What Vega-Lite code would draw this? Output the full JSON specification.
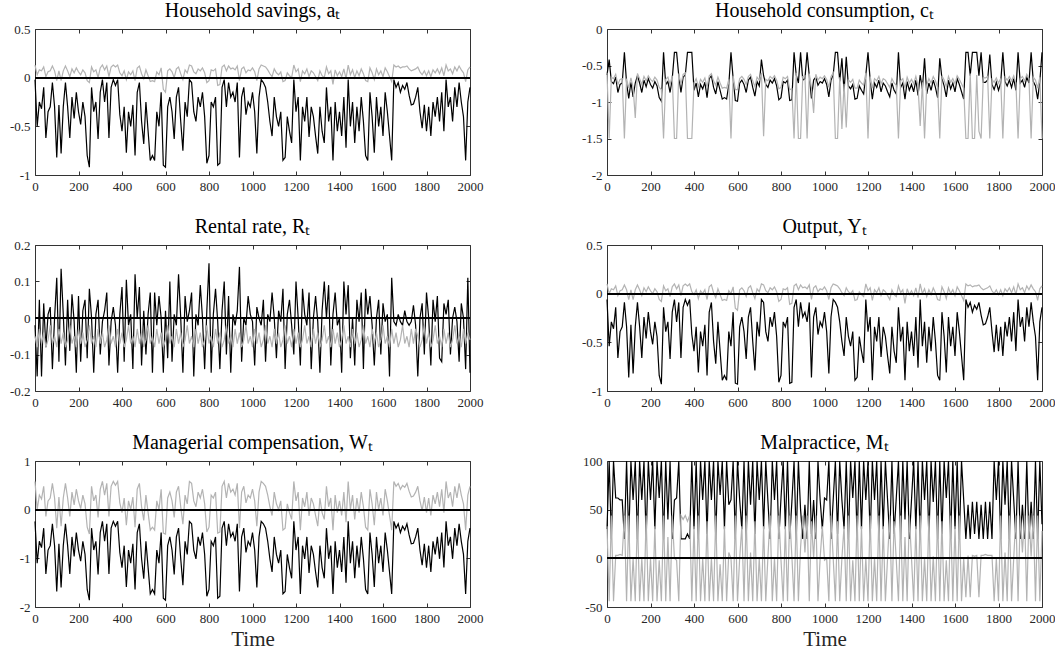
{
"$schema":"https://vega.github.io/schema/vega-lite/v6.json",
"padding":{"left":9,"top":1,"right":0,"bottom":0},
"config":{"view":{"stroke":null},"font":"Liberation Serif",
"axis":{"grid":false,"domainColor":"#333333","tickColor":"#333333","labelColor":"#262626","labelFont":"Liberation Serif","labelFontSize":13,"tickSize":-4,"labelPadding":9,"domainWidth":1,"tickWidth":1,"titleFont":"Liberation Serif","titleFontSize":21,"titleFontWeight":"normal","titleColor":"#262626","titlePadding":3,"labelFlush":false},
"title":{"font":"Liberation Serif","fontSize":20,"fontWeight":"normal","color":"#000000","offset":2,"frame":"group"},
"line":{"strokeWidth":1.2}},
"data":{"values":[
{"t":0,"a":-0.02,"ag":0.13,"c":-0.63,"cg":-0.6,"r":-0.02,"rg":-0.05,"y":-0.06,"yg":0.1,"w":-0.24,"wg":0.58,"m":30,"mg":33},
{"t":10,"a":-0.5,"ag":0.03,"c":-0.42,"cg":-1.5,"r":-0.16,"rg":-0.08,"y":-0.54,"yg":0,"w":-1.1,"wg":0,"m":100,"mg":-44},
{"t":20,"a":-0.25,"ag":0.08,"c":-0.72,"cg":-0.66,"r":0.05,"rg":-0.03,"y":-0.29,"yg":0.05,"w":-0.65,"wg":0.3,"m":20,"mg":44},
{"t":30,"a":-0.32,"ag":0.07,"c":-0.75,"cg":-0.68,"r":-0.16,"rg":-0.07,"y":-0.36,"yg":0.04,"w":-0.78,"wg":0.22,"m":100,"mg":-44},
{"t":40,"a":-0.1,"ag":0.11,"c":-0.66,"cg":-0.62,"r":0.04,"rg":-0.04,"y":-0.14,"yg":0.08,"w":-0.38,"wg":0.48,"m":62,"mg":3},
{"t":50,"a":-0.62,"ag":0.01,"c":-0.87,"cg":-0.76,"r":-0.08,"rg":-0.08,"y":-0.66,"yg":-0.02,"w":-1.32,"wg":-0.14,"m":62,"mg":3},
{"t":60,"a":-0.35,"ag":0.06,"c":-0.76,"cg":-0.69,"r":0.01,"rg":-0.06,"y":-0.39,"yg":0.03,"w":-0.83,"wg":0.18,"m":60,"mg":4},
{"t":70,"a":-0.3,"ag":0.07,"c":-0.74,"cg":-0.68,"r":0.03,"rg":-0.02,"y":-0.34,"yg":0.04,"w":-0.74,"wg":0.24,"m":60,"mg":3},
{"t":80,"a":-0.05,"ag":0.12,"c":-0.32,"cg":-1.5,"r":-0.14,"rg":-0.07,"y":-0.09,"yg":0.09,"w":-0.29,"wg":0.54,"m":20,"mg":44},
{"t":90,"a":-0.3,"ag":0.07,"c":-0.74,"cg":-0.68,"r":0,"rg":-0.05,"y":-0.34,"yg":0.04,"w":-0.74,"wg":0.24,"m":100,"mg":-44},
{"t":100,"a":-0.82,"ag":-0.03,"c":-0.95,"cg":-0.81,"r":0.11,"rg":-0.08,"y":-0.86,"yg":-0.06,"w":-1.68,"wg":-0.38,"m":20,"mg":44},
{"t":110,"a":-0.28,"ag":0.07,"c":-0.73,"cg":-0.67,"r":-0.12,"rg":-0.03,"y":-0.32,"yg":0.04,"w":-0.7,"wg":0.26,"m":100,"mg":-44},
{"t":120,"a":-0.78,"ag":-0.03,"c":-0.93,"cg":-0.8,"r":0.135,"rg":-0.07,"y":-0.82,"yg":-0.06,"w":-1.6,"wg":-0.34,"m":60,"mg":0},
{"t":130,"a":-0.3,"ag":0.07,"c":-0.74,"cg":-1.22,"r":0.01,"rg":-0.04,"y":-0.34,"yg":0.04,"w":-0.74,"wg":0.24,"m":100,"mg":-44},
{"t":140,"a":-0.05,"ag":0.12,"c":-0.64,"cg":-0.61,"r":-0.13,"rg":-0.08,"y":-0.09,"yg":0.09,"w":-0.29,"wg":0.54,"m":20,"mg":44},
{"t":150,"a":-0.3,"ag":0.07,"c":-0.74,"cg":-0.68,"r":0.05,"rg":-0.06,"y":-0.34,"yg":0.04,"w":-0.74,"wg":0.24,"m":100,"mg":-44},
{"t":160,"a":-0.62,"ag":0.01,"c":-0.87,"cg":-0.76,"r":-0.09,"rg":-0.02,"y":-0.66,"yg":-0.02,"w":-1.32,"wg":-0.14,"m":60,"mg":0},
{"t":170,"a":-0.2,"ag":0.09,"c":-0.7,"cg":-0.65,"r":0.065,"rg":-0.07,"y":-0.24,"yg":0.06,"w":-0.56,"wg":0.36,"m":100,"mg":-44},
{"t":180,"a":-0.42,"ag":0.05,"c":-0.79,"cg":-0.71,"r":-0.01,"rg":-0.05,"y":-0.46,"yg":0.02,"w":-0.96,"wg":0.1,"m":20,"mg":44},
{"t":190,"a":-0.15,"ag":0.1,"c":-0.68,"cg":-0.64,"r":-0.15,"rg":-0.08,"y":-0.19,"yg":0.07,"w":-0.47,"wg":0.42,"m":100,"mg":-44},
{"t":200,"a":-0.35,"ag":0.06,"c":-0.76,"cg":-0.69,"r":0.06,"rg":-0.03,"y":-0.39,"yg":0.03,"w":-0.83,"wg":0.18,"m":60,"mg":0},
{"t":210,"a":-0.48,"ag":0.03,"c":-0.81,"cg":-0.72,"r":-0.12,"rg":-0.07,"y":-0.52,"yg":0,"w":-1.06,"wg":0.02,"m":100,"mg":-44},
{"t":220,"a":-0.25,"ag":0.08,"c":-0.72,"cg":-0.66,"r":0.02,"rg":-0.04,"y":-0.29,"yg":0.05,"w":-0.65,"wg":0.3,"m":30,"mg":33},
{"t":230,"a":-0.4,"ag":0.05,"c":-0.78,"cg":-0.7,"r":0.05,"rg":-0.08,"y":-0.44,"yg":0.02,"w":-0.92,"wg":0.12,"m":100,"mg":-44},
{"t":240,"a":-0.8,"ag":-0.03,"c":-0.94,"cg":-0.8,"r":-0.11,"rg":-0.06,"y":-0.84,"yg":-0.06,"w":-1.64,"wg":-0.36,"m":62,"mg":-2},
{"t":250,"a":-0.92,"ag":-0.05,"c":-0.99,"cg":-0.83,"r":0.08,"rg":-0.02,"y":-0.93,"yg":-0.08,"w":-1.86,"wg":-0.5,"m":100,"mg":-44},
{"t":260,"a":-0.1,"ag":0.11,"c":-0.32,"cg":-1.5,"r":0,"rg":-0.07,"y":-0.14,"yg":0.08,"w":-0.38,"wg":0.48,"m":20,"mg":44},
{"t":270,"a":-0.35,"ag":0.06,"c":-0.76,"cg":-0.69,"r":-0.15,"rg":-0.05,"y":-0.39,"yg":0.03,"w":-0.83,"wg":0.18,"m":100,"mg":-44},
{"t":280,"a":-0.25,"ag":0.08,"c":-0.72,"cg":-0.66,"r":0.01,"rg":-0.08,"y":-0.29,"yg":0.05,"w":-0.65,"wg":0.3,"m":40,"mg":22},
{"t":290,"a":-0.63,"ag":0,"c":-0.87,"cg":-0.76,"r":0.05,"rg":-0.03,"y":-0.67,"yg":-0.03,"w":-1.33,"wg":-0.16,"m":100,"mg":-44},
{"t":300,"a":-0.15,"ag":0.1,"c":-0.68,"cg":-0.64,"r":-0.1,"rg":-0.07,"y":-0.19,"yg":0.07,"w":-0.47,"wg":0.42,"m":20,"mg":44},
{"t":310,"a":-0.02,"ag":0.13,"c":-0.32,"cg":-1.5,"r":-0.01,"rg":-0.04,"y":-0.06,"yg":0.1,"w":-0.24,"wg":0.58,"m":60,"mg":0},
{"t":320,"a":-0.25,"ag":0.08,"c":-0.32,"cg":-1.5,"r":0.02,"rg":-0.08,"y":-0.29,"yg":0.05,"w":-0.65,"wg":0.3,"m":62,"mg":-2},
{"t":330,"a":-0.05,"ag":0.12,"c":-0.64,"cg":-0.61,"r":0.07,"rg":-0.06,"y":-0.09,"yg":0.09,"w":-0.29,"wg":0.54,"m":100,"mg":-44},
{"t":340,"a":-0.62,"ag":0.01,"c":-0.87,"cg":-0.76,"r":-0.13,"rg":-0.02,"y":-0.66,"yg":-0.02,"w":-1.32,"wg":-0.14,"m":20,"mg":44},
{"t":350,"a":-0.1,"ag":0.11,"c":-0.66,"cg":-0.62,"r":-0.01,"rg":-0.07,"y":-0.14,"yg":0.08,"w":-0.38,"wg":0.48,"m":20,"mg":40},
{"t":360,"a":-0.02,"ag":0.13,"c":-0.63,"cg":-0.6,"r":0.03,"rg":-0.05,"y":-0.06,"yg":0.1,"w":-0.24,"wg":0.58,"m":20,"mg":44},
{"t":370,"a":-0.08,"ag":0.11,"c":-0.32,"cg":-1.5,"r":-0.02,"rg":-0.08,"y":-0.12,"yg":0.08,"w":-0.34,"wg":0.5,"m":25,"mg":38},
{"t":380,"a":-0.02,"ag":0.13,"c":-0.32,"cg":-1.5,"r":-0.15,"rg":-0.03,"y":-0.06,"yg":0.1,"w":-0.24,"wg":0.58,"m":20,"mg":44},
{"t":390,"a":-0.38,"ag":0.05,"c":-0.32,"cg":-1.5,"r":0.01,"rg":-0.07,"y":-0.42,"yg":0.02,"w":-0.88,"wg":0.14,"m":100,"mg":-44},
{"t":400,"a":-0.55,"ag":0.02,"c":-0.84,"cg":-0.74,"r":0.085,"rg":-0.04,"y":-0.59,"yg":-0.01,"w":-1.19,"wg":-0.06,"m":30,"mg":33},
{"t":410,"a":-0.3,"ag":0.07,"c":-0.74,"cg":-0.68,"r":-0.12,"rg":-0.08,"y":-0.34,"yg":0.04,"w":-0.74,"wg":0.24,"m":100,"mg":-44},
{"t":420,"a":-0.77,"ag":-0.02,"c":-0.93,"cg":-0.79,"r":0.105,"rg":-0.06,"y":-0.81,"yg":-0.05,"w":-1.59,"wg":-0.32,"m":20,"mg":44},
{"t":430,"a":-0.35,"ag":0.06,"c":-0.76,"cg":-0.69,"r":-0.02,"rg":-0.02,"y":-0.39,"yg":0.03,"w":-0.83,"wg":0.18,"m":100,"mg":-44},
{"t":440,"a":-0.5,"ag":0.03,"c":-0.82,"cg":-0.73,"r":0.01,"rg":-0.07,"y":-0.54,"yg":0,"w":-1.1,"wg":0,"m":60,"mg":0},
{"t":450,"a":-0.28,"ag":0.07,"c":-0.73,"cg":-0.67,"r":-0.14,"rg":-0.05,"y":-0.32,"yg":0.04,"w":-0.7,"wg":0.26,"m":100,"mg":-44},
{"t":460,"a":-0.8,"ag":-0.03,"c":-0.94,"cg":-0.8,"r":0.12,"rg":-0.08,"y":-0.84,"yg":-0.06,"w":-1.64,"wg":-0.36,"m":25,"mg":38},
{"t":470,"a":-0.15,"ag":0.1,"c":-0.68,"cg":-0.64,"r":0,"rg":-0.03,"y":-0.19,"yg":0.07,"w":-0.47,"wg":0.42,"m":100,"mg":-44},
{"t":480,"a":-0.05,"ag":0.12,"c":-0.64,"cg":-0.61,"r":0.085,"rg":-0.07,"y":-0.09,"yg":0.09,"w":-0.29,"wg":0.54,"m":60,"mg":0},
{"t":490,"a":-0.45,"ag":0.04,"c":-0.8,"cg":-0.71,"r":-0.13,"rg":-0.04,"y":-0.49,"yg":0.01,"w":-1.01,"wg":0.06,"m":100,"mg":-44},
{"t":500,"a":-0.68,"ag":-0.01,"c":-0.89,"cg":-0.77,"r":0.02,"rg":-0.08,"y":-0.72,"yg":-0.04,"w":-1.42,"wg":-0.22,"m":20,"mg":44},
{"t":510,"a":-0.25,"ag":0.08,"c":-0.72,"cg":-0.66,"r":-0.1,"rg":-0.06,"y":-0.29,"yg":0.05,"w":-0.65,"wg":0.3,"m":100,"mg":-44},
{"t":520,"a":-0.55,"ag":0.02,"c":-0.84,"cg":-0.74,"r":0.01,"rg":-0.02,"y":-0.59,"yg":-0.01,"w":-1.19,"wg":-0.06,"m":65,"mg":-6},
{"t":530,"a":-0.85,"ag":-0.04,"c":-0.96,"cg":-0.81,"r":0.07,"rg":-0.07,"y":-0.89,"yg":-0.07,"w":-1.73,"wg":-0.42,"m":100,"mg":-44},
{"t":540,"a":-0.8,"ag":-0.03,"c":-0.94,"cg":-0.8,"r":-0.15,"rg":-0.05,"y":-0.84,"yg":-0.06,"w":-1.64,"wg":-0.36,"m":30,"mg":33},
{"t":550,"a":-0.85,"ag":-0.04,"c":-0.96,"cg":-0.81,"r":0.07,"rg":-0.08,"y":-0.89,"yg":-0.07,"w":-1.73,"wg":-0.42,"m":100,"mg":-44},
{"t":560,"a":-0.35,"ag":0.06,"c":-0.76,"cg":-0.69,"r":-0.02,"rg":-0.03,"y":-0.39,"yg":0.03,"w":-0.83,"wg":0.18,"m":55,"mg":6},
{"t":570,"a":-0.5,"ag":0.03,"c":-0.32,"cg":-1.5,"r":0.06,"rg":-0.07,"y":-0.54,"yg":0,"w":-1.1,"wg":0,"m":60,"mg":0},
{"t":580,"a":-0.15,"ag":0.1,"c":-0.68,"cg":-0.64,"r":0,"rg":-0.04,"y":-0.19,"yg":0.07,"w":-0.47,"wg":0.42,"m":100,"mg":-44},
{"t":590,"a":-0.9,"ag":-0.12,"c":-0.98,"cg":-0.83,"r":-0.15,"rg":-0.08,"y":-0.92,"yg":-0.15,"w":-1.82,"wg":-0.48,"m":20,"mg":44},
{"t":600,"a":-0.92,"ag":-0.15,"c":-0.99,"cg":-0.83,"r":0.02,"rg":-0.06,"y":-0.93,"yg":-0.17,"w":-1.86,"wg":-0.5,"m":100,"mg":-44},
{"t":610,"a":-0.3,"ag":0.07,"c":-0.74,"cg":-0.68,"r":-0.11,"rg":-0.02,"y":-0.34,"yg":0.04,"w":-0.74,"wg":0.24,"m":60,"mg":0},
{"t":620,"a":-0.2,"ag":0.09,"c":-0.7,"cg":-0.65,"r":0.1,"rg":-0.07,"y":-0.24,"yg":0.06,"w":-0.56,"wg":0.36,"m":30,"mg":33},
{"t":630,"a":-0.35,"ag":0.06,"c":-0.76,"cg":-0.69,"r":-0.12,"rg":-0.05,"y":-0.39,"yg":0.03,"w":-0.83,"wg":0.18,"m":100,"mg":-44},
{"t":640,"a":-0.63,"ag":0,"c":-0.87,"cg":-0.76,"r":0.01,"rg":-0.08,"y":-0.67,"yg":-0.03,"w":-1.33,"wg":-0.16,"m":20,"mg":44},
{"t":650,"a":-0.2,"ag":0.09,"c":-0.7,"cg":-0.65,"r":-0.02,"rg":-0.03,"y":-0.24,"yg":0.06,"w":-0.56,"wg":0.36,"m":100,"mg":-44},
{"t":660,"a":-0.1,"ag":0.11,"c":-0.66,"cg":-0.62,"r":0.12,"rg":-0.07,"y":-0.14,"yg":0.08,"w":-0.38,"wg":0.48,"m":55,"mg":6},
{"t":670,"a":-0.45,"ag":0.04,"c":-0.8,"cg":-0.71,"r":0,"rg":-0.04,"y":-0.49,"yg":0.01,"w":-1.01,"wg":0.06,"m":100,"mg":-44},
{"t":680,"a":-0.75,"ag":-0.02,"c":-0.92,"cg":-0.79,"r":-0.15,"rg":-0.08,"y":-0.79,"yg":-0.05,"w":-1.55,"wg":-0.3,"m":25,"mg":38},
{"t":690,"a":-0.25,"ag":0.08,"c":-0.72,"cg":-0.66,"r":0.06,"rg":-0.06,"y":-0.29,"yg":0.05,"w":-0.65,"wg":0.3,"m":100,"mg":-44},
{"t":700,"a":-0.4,"ag":0.05,"c":-0.78,"cg":-0.7,"r":-0.01,"rg":-0.02,"y":-0.44,"yg":0.02,"w":-0.92,"wg":0.12,"m":60,"mg":0},
{"t":710,"a":-0.02,"ag":0.13,"c":-0.42,"cg":-0.6,"r":0.02,"rg":-0.07,"y":-0.06,"yg":0.1,"w":-0.24,"wg":0.58,"m":100,"mg":-44},
{"t":720,"a":-0.05,"ag":0.12,"c":-0.64,"cg":-1.47,"r":0.07,"rg":-0.05,"y":-0.09,"yg":0.09,"w":-0.29,"wg":0.54,"m":30,"mg":33},
{"t":730,"a":-0.35,"ag":0.06,"c":-0.76,"cg":-0.69,"r":-0.16,"rg":-0.08,"y":-0.39,"yg":0.03,"w":-0.83,"wg":0.18,"m":100,"mg":-44},
{"t":740,"a":-0.45,"ag":0.04,"c":-0.8,"cg":-0.71,"r":0.01,"rg":-0.03,"y":-0.49,"yg":0.01,"w":-1.01,"wg":0.06,"m":58,"mg":2},
{"t":750,"a":-0.2,"ag":0.09,"c":-0.7,"cg":-0.65,"r":-0.02,"rg":-0.07,"y":-0.24,"yg":0.06,"w":-0.56,"wg":0.36,"m":20,"mg":44},
{"t":760,"a":-0.3,"ag":0.07,"c":-0.74,"cg":-0.68,"r":0.09,"rg":-0.04,"y":-0.34,"yg":0.04,"w":-0.74,"wg":0.24,"m":100,"mg":-44},
{"t":770,"a":-0.15,"ag":0.1,"c":-0.68,"cg":-0.64,"r":0,"rg":-0.08,"y":-0.19,"yg":0.07,"w":-0.47,"wg":0.42,"m":60,"mg":0},
{"t":780,"a":-0.4,"ag":0.05,"c":-0.78,"cg":-0.7,"r":-0.14,"rg":-0.06,"y":-0.44,"yg":0.02,"w":-0.92,"wg":0.12,"m":100,"mg":-44},
{"t":790,"a":-0.88,"ag":-0.05,"c":-0.97,"cg":-0.82,"r":0.02,"rg":-0.02,"y":-0.91,"yg":-0.08,"w":-1.78,"wg":-0.46,"m":20,"mg":44},
{"t":800,"a":-0.8,"ag":-0.03,"c":-0.94,"cg":-0.8,"r":0.15,"rg":-0.07,"y":-0.84,"yg":-0.06,"w":-1.64,"wg":-0.36,"m":62,"mg":-2},
{"t":810,"a":-0.25,"ag":0.08,"c":-0.72,"cg":-0.66,"r":-0.15,"rg":-0.05,"y":-0.29,"yg":0.05,"w":-0.65,"wg":0.3,"m":100,"mg":-44},
{"t":820,"a":-0.3,"ag":0.07,"c":-0.74,"cg":-0.68,"r":0.01,"rg":-0.08,"y":-0.34,"yg":0.04,"w":-0.74,"wg":0.24,"m":30,"mg":33},
{"t":830,"a":-0.2,"ag":0.09,"c":-0.7,"cg":-0.65,"r":0.08,"rg":-0.03,"y":-0.24,"yg":0.06,"w":-0.56,"wg":0.36,"m":100,"mg":-44},
{"t":840,"a":-0.9,"ag":-0.08,"c":-0.98,"cg":-0.83,"r":-0.01,"rg":-0.07,"y":-0.92,"yg":-0.11,"w":-1.82,"wg":-0.48,"m":20,"mg":44},
{"t":850,"a":-0.88,"ag":-0.07,"c":-0.97,"cg":-0.82,"r":-0.14,"rg":-0.04,"y":-0.91,"yg":-0.1,"w":-1.78,"wg":-0.46,"m":58,"mg":2},
{"t":860,"a":-0.1,"ag":0.11,"c":-0.32,"cg":-1.5,"r":0.02,"rg":-0.08,"y":-0.14,"yg":0.08,"w":-0.38,"wg":0.48,"m":100,"mg":-44},
{"t":870,"a":-0.02,"ag":0.13,"c":-0.63,"cg":-0.6,"r":0.1,"rg":-0.06,"y":-0.06,"yg":0.1,"w":-0.24,"wg":0.58,"m":20,"mg":44},
{"t":880,"a":-0.3,"ag":0.07,"c":-0.74,"cg":-1.5,"r":-0.1,"rg":-0.02,"y":-0.34,"yg":0.04,"w":-0.74,"wg":0.24,"m":100,"mg":-44},
{"t":890,"a":-0.05,"ag":0.12,"c":-0.32,"cg":-1.5,"r":0.06,"rg":-0.07,"y":-0.09,"yg":0.09,"w":-0.29,"wg":0.54,"m":50,"mg":11},
{"t":900,"a":-0.2,"ag":0.09,"c":-0.7,"cg":-0.65,"r":-0.15,"rg":-0.05,"y":-0.24,"yg":0.06,"w":-0.56,"wg":0.36,"m":20,"mg":44},
{"t":910,"a":-0.15,"ag":0.1,"c":-0.68,"cg":-0.64,"r":0.01,"rg":-0.08,"y":-0.19,"yg":0.07,"w":-0.47,"wg":0.42,"m":55,"mg":6},
{"t":920,"a":-0.25,"ag":0.08,"c":-0.32,"cg":-1.5,"r":-0.02,"rg":-0.03,"y":-0.29,"yg":0.05,"w":-0.65,"wg":0.3,"m":20,"mg":44},
{"t":930,"a":-0.05,"ag":0.12,"c":-0.64,"cg":-0.61,"r":0.02,"rg":-0.07,"y":-0.09,"yg":0.09,"w":-0.29,"wg":0.54,"m":100,"mg":-44},
{"t":940,"a":-0.82,"ag":-0.03,"c":-0.95,"cg":-0.81,"r":0.14,"rg":-0.04,"y":-0.86,"yg":-0.06,"w":-1.68,"wg":-0.38,"m":25,"mg":38},
{"t":950,"a":-0.2,"ag":0.09,"c":-0.7,"cg":-1.15,"r":-0.12,"rg":-0.08,"y":-0.24,"yg":0.06,"w":-0.56,"wg":0.36,"m":60,"mg":0},
{"t":960,"a":-0.1,"ag":0.11,"c":-0.66,"cg":-0.62,"r":0,"rg":-0.06,"y":-0.14,"yg":0.08,"w":-0.38,"wg":0.48,"m":20,"mg":44},
{"t":970,"a":-0.38,"ag":0.05,"c":-0.77,"cg":-0.7,"r":-0.02,"rg":-0.02,"y":-0.42,"yg":0.02,"w":-0.88,"wg":0.14,"m":100,"mg":-44},
{"t":980,"a":-0.25,"ag":0.08,"c":-0.72,"cg":-0.66,"r":0.06,"rg":-0.07,"y":-0.29,"yg":0.05,"w":-0.65,"wg":0.3,"m":60,"mg":0},
{"t":990,"a":-0.3,"ag":0.07,"c":-0.74,"cg":-0.68,"r":0.01,"rg":-0.05,"y":-0.34,"yg":0.04,"w":-0.74,"wg":0.24,"m":30,"mg":33},
{"t":1000,"a":-0.15,"ag":0.1,"c":-0.68,"cg":-0.64,"r":-0.01,"rg":-0.08,"y":-0.19,"yg":0.07,"w":-0.47,"wg":0.42,"m":62,"mg":-2},
{"t":1010,"a":-0.35,"ag":0.06,"c":-0.76,"cg":-0.69,"r":-0.13,"rg":-0.03,"y":-0.39,"yg":0.03,"w":-0.83,"wg":0.18,"m":60,"mg":0},
{"t":1020,"a":-0.78,"ag":-0.03,"c":-0.93,"cg":-0.8,"r":0.03,"rg":-0.07,"y":-0.82,"yg":-0.06,"w":-1.6,"wg":-0.34,"m":100,"mg":-44},
{"t":1030,"a":-0.2,"ag":0.09,"c":-0.7,"cg":-0.65,"r":0,"rg":-0.04,"y":-0.24,"yg":0.06,"w":-0.56,"wg":0.36,"m":20,"mg":44},
{"t":1040,"a":-0.02,"ag":0.13,"c":-0.63,"cg":-0.6,"r":-0.02,"rg":-0.08,"y":-0.06,"yg":0.1,"w":-0.24,"wg":0.58,"m":60,"mg":0},
{"t":1050,"a":-0.05,"ag":0.12,"c":-0.32,"cg":-1.5,"r":0.05,"rg":-0.06,"y":-0.09,"yg":0.09,"w":-0.29,"wg":0.54,"m":100,"mg":-44},
{"t":1060,"a":-0.1,"ag":0.11,"c":-0.32,"cg":-1.5,"r":-0.12,"rg":-0.02,"y":-0.14,"yg":0.08,"w":-0.38,"wg":0.48,"m":25,"mg":38},
{"t":1070,"a":-0.25,"ag":0.08,"c":-0.72,"cg":-0.66,"r":0.01,"rg":-0.07,"y":-0.29,"yg":0.05,"w":-0.65,"wg":0.3,"m":100,"mg":-44},
{"t":1080,"a":-0.45,"ag":0.04,"c":-0.4,"cg":-1.37,"r":-0.01,"rg":-0.05,"y":-0.49,"yg":0.01,"w":-1.01,"wg":0.06,"m":60,"mg":0},
{"t":1090,"a":-0.6,"ag":0.01,"c":-0.86,"cg":-0.75,"r":0.07,"rg":-0.08,"y":-0.64,"yg":-0.02,"w":-1.28,"wg":-0.12,"m":30,"mg":33},
{"t":1100,"a":-0.2,"ag":0.09,"c":-0.38,"cg":-1.35,"r":0,"rg":-0.03,"y":-0.24,"yg":0.06,"w":-0.56,"wg":0.36,"m":100,"mg":-44},
{"t":1110,"a":-0.4,"ag":0.05,"c":-0.78,"cg":-0.7,"r":-0.11,"rg":-0.07,"y":-0.44,"yg":0.02,"w":-0.92,"wg":0.12,"m":20,"mg":44},
{"t":1120,"a":-0.5,"ag":0.03,"c":-0.82,"cg":-0.73,"r":0.02,"rg":-0.04,"y":-0.54,"yg":0,"w":-1.1,"wg":0,"m":100,"mg":-44},
{"t":1130,"a":-0.35,"ag":0.06,"c":-0.76,"cg":-0.69,"r":-0.01,"rg":-0.08,"y":-0.39,"yg":0.03,"w":-0.83,"wg":0.18,"m":62,"mg":-2},
{"t":1140,"a":-0.85,"ag":-0.04,"c":-0.96,"cg":-0.81,"r":0.08,"rg":-0.06,"y":-0.89,"yg":-0.07,"w":-1.73,"wg":-0.42,"m":100,"mg":-44},
{"t":1150,"a":-0.82,"ag":-0.03,"c":-0.95,"cg":-0.81,"r":-0.14,"rg":-0.02,"y":-0.86,"yg":-0.06,"w":-1.68,"wg":-0.38,"m":20,"mg":44},
{"t":1160,"a":-0.4,"ag":0.05,"c":-0.78,"cg":-0.7,"r":0.01,"rg":-0.07,"y":-0.44,"yg":0.02,"w":-0.92,"wg":0.12,"m":100,"mg":-44},
{"t":1170,"a":-0.55,"ag":0.02,"c":-0.84,"cg":-0.74,"r":0.05,"rg":-0.05,"y":-0.59,"yg":-0.01,"w":-1.19,"wg":-0.06,"m":30,"mg":33},
{"t":1180,"a":-0.67,"ag":0,"c":-0.89,"cg":-0.77,"r":-0.02,"rg":-0.08,"y":-0.71,"yg":-0.03,"w":-1.41,"wg":-0.2,"m":100,"mg":-44},
{"t":1190,"a":-0.02,"ag":0.13,"c":-0.63,"cg":-0.6,"r":-0.1,"rg":-0.03,"y":-0.06,"yg":0.1,"w":-0.24,"wg":0.58,"m":60,"mg":0},
{"t":1200,"a":-0.35,"ag":0.06,"c":-0.32,"cg":-1.5,"r":0.1,"rg":-0.07,"y":-0.39,"yg":0.03,"w":-0.83,"wg":0.18,"m":100,"mg":-44},
{"t":1210,"a":-0.2,"ag":0.09,"c":-0.7,"cg":-0.65,"r":0,"rg":-0.04,"y":-0.24,"yg":0.06,"w":-0.56,"wg":0.36,"m":20,"mg":44},
{"t":1220,"a":-0.85,"ag":-0.04,"c":-0.96,"cg":-0.81,"r":-0.13,"rg":-0.08,"y":-0.89,"yg":-0.07,"w":-1.73,"wg":-0.42,"m":100,"mg":-44},
{"t":1230,"a":-0.3,"ag":0.07,"c":-0.74,"cg":-0.68,"r":0.08,"rg":-0.06,"y":-0.34,"yg":0.04,"w":-0.74,"wg":0.24,"m":60,"mg":0},
{"t":1240,"a":-0.45,"ag":0.04,"c":-0.8,"cg":-0.71,"r":0.01,"rg":-0.02,"y":-0.49,"yg":0.01,"w":-1.01,"wg":0.06,"m":100,"mg":-44},
{"t":1250,"a":-0.2,"ag":0.09,"c":-0.7,"cg":-0.65,"r":-0.02,"rg":-0.07,"y":-0.24,"yg":0.06,"w":-0.56,"wg":0.36,"m":20,"mg":44},
{"t":1260,"a":-0.61,"ag":0.01,"c":-0.86,"cg":-0.75,"r":0.07,"rg":-0.05,"y":-0.65,"yg":-0.02,"w":-1.3,"wg":-0.13,"m":100,"mg":-44},
{"t":1270,"a":-0.3,"ag":0.07,"c":-0.74,"cg":-0.68,"r":-0.14,"rg":-0.08,"y":-0.34,"yg":0.04,"w":-0.74,"wg":0.24,"m":30,"mg":33},
{"t":1280,"a":-0.4,"ag":0.05,"c":-0.78,"cg":-0.7,"r":0,"rg":-0.03,"y":-0.44,"yg":0.02,"w":-0.92,"wg":0.12,"m":100,"mg":-44},
{"t":1290,"a":-0.6,"ag":0.01,"c":-0.86,"cg":-0.75,"r":0.06,"rg":-0.07,"y":-0.64,"yg":-0.02,"w":-1.28,"wg":-0.12,"m":60,"mg":0},
{"t":1300,"a":-0.78,"ag":-0.03,"c":-0.93,"cg":-0.8,"r":-0.01,"rg":-0.04,"y":-0.82,"yg":-0.06,"w":-1.6,"wg":-0.34,"m":20,"mg":44},
{"t":1310,"a":-0.3,"ag":0.07,"c":-0.74,"cg":-0.68,"r":-0.15,"rg":-0.08,"y":-0.34,"yg":0.04,"w":-0.74,"wg":0.24,"m":100,"mg":-44},
{"t":1320,"a":-0.55,"ag":0.02,"c":-0.84,"cg":-0.74,"r":0.02,"rg":-0.06,"y":-0.59,"yg":-0.01,"w":-1.19,"wg":-0.06,"m":25,"mg":38},
{"t":1330,"a":-0.67,"ag":0,"c":-0.89,"cg":-0.77,"r":0.1,"rg":-0.02,"y":-0.71,"yg":-0.03,"w":-1.41,"wg":-0.2,"m":62,"mg":-2},
{"t":1340,"a":-0.1,"ag":0.11,"c":-0.32,"cg":-1.5,"r":0,"rg":-0.07,"y":-0.14,"yg":0.08,"w":-0.38,"wg":0.48,"m":100,"mg":-44},
{"t":1350,"a":-0.45,"ag":0.04,"c":-0.8,"cg":-0.71,"r":0.09,"rg":-0.05,"y":-0.49,"yg":0.01,"w":-1.01,"wg":0.06,"m":20,"mg":44},
{"t":1360,"a":-0.3,"ag":0.07,"c":-0.74,"cg":-0.68,"r":-0.13,"rg":-0.08,"y":-0.34,"yg":0.04,"w":-0.74,"wg":0.24,"m":100,"mg":-44},
{"t":1370,"a":-0.85,"ag":-0.07,"c":-0.96,"cg":-0.81,"r":0.01,"rg":-0.03,"y":-0.89,"yg":-0.1,"w":-1.73,"wg":-0.42,"m":40,"mg":22},
{"t":1380,"a":-0.25,"ag":0.08,"c":-0.72,"cg":-0.66,"r":0.07,"rg":-0.07,"y":-0.29,"yg":0.05,"w":-0.65,"wg":0.3,"m":100,"mg":-44},
{"t":1390,"a":-0.55,"ag":0.02,"c":-0.84,"cg":-0.74,"r":-0.02,"rg":-0.04,"y":-0.59,"yg":-0.01,"w":-1.19,"wg":-0.06,"m":20,"mg":44},
{"t":1400,"a":-0.35,"ag":0.06,"c":-0.76,"cg":-0.69,"r":0,"rg":-0.08,"y":-0.39,"yg":0.03,"w":-0.83,"wg":0.18,"m":60,"mg":0},
{"t":1410,"a":-0.6,"ag":0.01,"c":-0.86,"cg":-0.75,"r":-0.15,"rg":-0.06,"y":-0.64,"yg":-0.02,"w":-1.28,"wg":-0.12,"m":100,"mg":-44},
{"t":1420,"a":-0.2,"ag":0.09,"c":-0.7,"cg":-0.65,"r":0.1,"rg":-0.02,"y":-0.24,"yg":0.06,"w":-0.56,"wg":0.36,"m":30,"mg":33},
{"t":1430,"a":-0.72,"ag":-0.01,"c":-0.91,"cg":-0.78,"r":0.01,"rg":-0.07,"y":-0.76,"yg":-0.04,"w":-1.5,"wg":-0.26,"m":100,"mg":-44},
{"t":1440,"a":-0.02,"ag":0.13,"c":-0.63,"cg":-1.33,"r":0.09,"rg":-0.05,"y":-0.06,"yg":0.1,"w":-0.24,"wg":0.58,"m":20,"mg":44},
{"t":1450,"a":-0.5,"ag":0.03,"c":-0.82,"cg":-0.73,"r":-0.11,"rg":-0.08,"y":-0.54,"yg":0,"w":-1.1,"wg":0,"m":100,"mg":-44},
{"t":1460,"a":-0.25,"ag":0.08,"c":-0.4,"cg":-1.5,"r":0,"rg":-0.03,"y":-0.29,"yg":0.05,"w":-0.65,"wg":0.3,"m":60,"mg":0},
{"t":1470,"a":-0.67,"ag":0,"c":-0.89,"cg":-0.77,"r":-0.13,"rg":-0.07,"y":-0.71,"yg":-0.03,"w":-1.41,"wg":-0.2,"m":100,"mg":-44},
{"t":1480,"a":-0.3,"ag":0.07,"c":-0.74,"cg":-0.68,"r":0.05,"rg":-0.04,"y":-0.34,"yg":0.04,"w":-0.74,"wg":0.24,"m":20,"mg":44},
{"t":1490,"a":-0.55,"ag":0.02,"c":-0.84,"cg":-0.74,"r":-0.01,"rg":-0.08,"y":-0.59,"yg":-0.01,"w":-1.19,"wg":-0.06,"m":100,"mg":-44},
{"t":1500,"a":-0.2,"ag":0.09,"c":-0.7,"cg":-0.65,"r":0.07,"rg":-0.06,"y":-0.24,"yg":0.06,"w":-0.56,"wg":0.36,"m":58,"mg":2},
{"t":1510,"a":-0.45,"ag":0.04,"c":-0.8,"cg":-0.71,"r":-0.14,"rg":-0.02,"y":-0.49,"yg":0.01,"w":-1.01,"wg":0.06,"m":100,"mg":-44},
{"t":1520,"a":-0.8,"ag":-0.03,"c":-0.94,"cg":-0.8,"r":0.08,"rg":-0.07,"y":-0.84,"yg":-0.06,"w":-1.64,"wg":-0.36,"m":20,"mg":44},
{"t":1530,"a":-0.85,"ag":-0.04,"c":-0.4,"cg":-1.5,"r":0.01,"rg":-0.05,"y":-0.89,"yg":-0.07,"w":-1.73,"wg":-0.42,"m":100,"mg":-44},
{"t":1540,"a":-0.15,"ag":0.1,"c":-0.68,"cg":-0.64,"r":0.06,"rg":-0.08,"y":-0.19,"yg":0.07,"w":-0.47,"wg":0.42,"m":25,"mg":38},
{"t":1550,"a":-0.4,"ag":0.05,"c":-0.78,"cg":-0.7,"r":-0.02,"rg":-0.03,"y":-0.44,"yg":0.02,"w":-0.92,"wg":0.12,"m":100,"mg":-44},
{"t":1560,"a":-0.77,"ag":-0.02,"c":-0.93,"cg":-0.79,"r":-0.13,"rg":-0.07,"y":-0.81,"yg":-0.05,"w":-1.59,"wg":-0.32,"m":62,"mg":-2},
{"t":1570,"a":-0.2,"ag":0.09,"c":-0.7,"cg":-0.65,"r":0,"rg":-0.04,"y":-0.24,"yg":0.06,"w":-0.56,"wg":0.36,"m":100,"mg":-44},
{"t":1580,"a":-0.5,"ag":0.03,"c":-0.82,"cg":-0.73,"r":0.05,"rg":-0.08,"y":-0.54,"yg":0,"w":-1.1,"wg":0,"m":20,"mg":44},
{"t":1590,"a":-0.3,"ag":0.07,"c":-0.74,"cg":-0.68,"r":-0.1,"rg":-0.06,"y":-0.34,"yg":0.04,"w":-0.74,"wg":0.24,"m":100,"mg":-44},
{"t":1600,"a":-0.6,"ag":0.01,"c":-0.86,"cg":-0.75,"r":0.04,"rg":-0.02,"y":-0.64,"yg":-0.02,"w":-1.28,"wg":-0.12,"m":30,"mg":33},
{"t":1610,"a":-0.15,"ag":0.1,"c":-0.68,"cg":-0.64,"r":-0.01,"rg":-0.07,"y":-0.19,"yg":0.07,"w":-0.47,"wg":0.42,"m":100,"mg":-44},
{"t":1620,"a":-0.35,"ag":0.06,"c":-0.76,"cg":-0.69,"r":0.01,"rg":-0.05,"y":-0.39,"yg":0.03,"w":-0.83,"wg":0.18,"m":20,"mg":44},
{"t":1630,"a":-0.6,"ag":0.01,"c":-0.86,"cg":-0.75,"r":-0.16,"rg":-0.08,"y":-0.64,"yg":-0.02,"w":-1.28,"wg":-0.12,"m":100,"mg":-44},
{"t":1640,"a":-0.85,"ag":-0.04,"c":-0.96,"cg":-0.81,"r":0.11,"rg":-0.03,"y":-0.89,"yg":-0.07,"w":-1.73,"wg":-0.42,"m":60,"mg":0},
{"t":1650,"a":-0.02,"ag":0.13,"c":-0.32,"cg":-1.5,"r":-0.01,"rg":-0.07,"y":-0.06,"yg":0.1,"w":-0.24,"wg":0.58,"m":20,"mg":-40},
{"t":1660,"a":-0.1,"ag":0.11,"c":-0.32,"cg":-1.5,"r":-0.02,"rg":-0.04,"y":-0.14,"yg":0.08,"w":-0.38,"wg":0.48,"m":55,"mg":3},
{"t":1670,"a":-0.05,"ag":0.12,"c":-0.64,"cg":-0.61,"r":0.01,"rg":-0.08,"y":-0.09,"yg":0.09,"w":-0.29,"wg":0.54,"m":20,"mg":-40},
{"t":1680,"a":-0.15,"ag":0.1,"c":-0.32,"cg":-1.5,"r":-0.01,"rg":-0.06,"y":-0.19,"yg":0.07,"w":-0.47,"wg":0.42,"m":58,"mg":3},
{"t":1690,"a":-0.08,"ag":0.11,"c":-0.32,"cg":-1.5,"r":-0.02,"rg":-0.02,"y":-0.12,"yg":0.08,"w":-0.34,"wg":0.5,"m":25,"mg":2},
{"t":1700,"a":-0.12,"ag":0.11,"c":-0.32,"cg":-0.63,"r":0.02,"rg":-0.07,"y":-0.16,"yg":0.08,"w":-0.42,"wg":0.46,"m":58,"mg":3},
{"t":1710,"a":-0.05,"ag":0.12,"c":-0.64,"cg":-1.4,"r":-0.01,"rg":-0.05,"y":-0.09,"yg":0.09,"w":-0.29,"wg":0.54,"m":20,"mg":-40},
{"t":1720,"a":-0.18,"ag":0.09,"c":-0.32,"cg":-1.5,"r":-0.02,"rg":-0.08,"y":-0.22,"yg":0.06,"w":-0.52,"wg":0.38,"m":55,"mg":3},
{"t":1730,"a":-0.28,"ag":0.07,"c":-0.73,"cg":-0.67,"r":-0.01,"rg":-0.03,"y":-0.32,"yg":0.04,"w":-0.7,"wg":0.26,"m":20,"mg":3},
{"t":1740,"a":-0.27,"ag":0.08,"c":-0.73,"cg":-0.67,"r":0.035,"rg":-0.07,"y":-0.31,"yg":0.05,"w":-0.69,"wg":0.28,"m":58,"mg":4},
{"t":1750,"a":-0.2,"ag":0.09,"c":-0.7,"cg":-0.65,"r":-0.02,"rg":-0.03,"y":-0.24,"yg":0.06,"w":-0.56,"wg":0.36,"m":20,"mg":3},
{"t":1760,"a":-0.1,"ag":0.11,"c":-0.35,"cg":-1.5,"r":-0.16,"rg":-0.05,"y":-0.14,"yg":0.08,"w":-0.38,"wg":0.48,"m":58,"mg":3},
{"t":1770,"a":-0.35,"ag":0.06,"c":-0.76,"cg":-0.69,"r":0,"rg":-0.08,"y":-0.39,"yg":0.03,"w":-0.83,"wg":0.18,"m":20,"mg":3},
{"t":1780,"a":-0.52,"ag":0.03,"c":-0.83,"cg":-0.73,"r":0.04,"rg":-0.06,"y":-0.6,"yg":0,"w":-1.14,"wg":-0.02,"m":100,"mg":-44},
{"t":1790,"a":-0.28,"ag":0.07,"c":-0.73,"cg":-0.67,"r":-0.1,"rg":-0.02,"y":-0.32,"yg":0.04,"w":-0.7,"wg":0.26,"m":60,"mg":0},
{"t":1800,"a":-0.55,"ag":0.02,"c":-0.84,"cg":-0.74,"r":0.07,"rg":-0.07,"y":-0.59,"yg":-0.01,"w":-1.19,"wg":-0.06,"m":100,"mg":-44},
{"t":1810,"a":-0.3,"ag":0.07,"c":-0.74,"cg":-0.68,"r":0,"rg":-0.04,"y":-0.34,"yg":0.04,"w":-0.74,"wg":0.24,"m":20,"mg":44},
{"t":1820,"a":-0.6,"ag":0.01,"c":-0.32,"cg":-1.5,"r":-0.13,"rg":-0.08,"y":-0.64,"yg":-0.02,"w":-1.28,"wg":-0.12,"m":100,"mg":-44},
{"t":1830,"a":-0.25,"ag":0.08,"c":-0.72,"cg":-0.66,"r":0.05,"rg":-0.06,"y":-0.29,"yg":0.05,"w":-0.65,"wg":0.3,"m":55,"mg":6},
{"t":1840,"a":-0.4,"ag":0.05,"c":-0.78,"cg":-0.7,"r":-0.01,"rg":-0.02,"y":-0.44,"yg":0.02,"w":-0.92,"wg":0.12,"m":100,"mg":-44},
{"t":1850,"a":-0.2,"ag":0.09,"c":-0.7,"cg":-0.65,"r":0.06,"rg":-0.07,"y":-0.24,"yg":0.06,"w":-0.56,"wg":0.36,"m":20,"mg":44},
{"t":1860,"a":-0.45,"ag":0.04,"c":-0.8,"cg":-0.71,"r":-0.11,"rg":-0.05,"y":-0.49,"yg":0.01,"w":-1.01,"wg":0.06,"m":100,"mg":-44},
{"t":1870,"a":-0.15,"ag":0.1,"c":-0.68,"cg":-0.64,"r":-0.12,"rg":-0.08,"y":-0.19,"yg":0.07,"w":-0.47,"wg":0.42,"m":60,"mg":0},
{"t":1880,"a":-0.55,"ag":0.02,"c":-0.84,"cg":-0.74,"r":0.04,"rg":-0.03,"y":-0.59,"yg":-0.01,"w":-1.19,"wg":-0.06,"m":20,"mg":44},
{"t":1890,"a":-0.02,"ag":0.13,"c":-0.32,"cg":-1.5,"r":0.01,"rg":-0.07,"y":-0.06,"yg":0.1,"w":-0.24,"wg":0.58,"m":100,"mg":-44},
{"t":1900,"a":-0.3,"ag":0.07,"c":-0.74,"cg":-0.68,"r":0.05,"rg":-0.04,"y":-0.34,"yg":0.04,"w":-0.74,"wg":0.24,"m":20,"mg":44},
{"t":1910,"a":-0.2,"ag":0.09,"c":-0.7,"cg":-0.65,"r":-0.1,"rg":-0.08,"y":-0.24,"yg":0.06,"w":-0.56,"wg":0.36,"m":55,"mg":6},
{"t":1920,"a":-0.45,"ag":0.04,"c":-0.8,"cg":-0.71,"r":0,"rg":-0.06,"y":-0.49,"yg":0.01,"w":-1.01,"wg":0.06,"m":20,"mg":44},
{"t":1930,"a":-0.1,"ag":0.11,"c":-0.66,"cg":-0.62,"r":0.03,"rg":-0.02,"y":-0.14,"yg":0.08,"w":-0.38,"wg":0.48,"m":100,"mg":-44},
{"t":1940,"a":-0.3,"ag":0.07,"c":-0.74,"cg":-0.68,"r":-0.01,"rg":-0.07,"y":-0.34,"yg":0.04,"w":-0.74,"wg":0.24,"m":20,"mg":44},
{"t":1950,"a":-0.05,"ag":0.12,"c":-0.32,"cg":-1.5,"r":-0.12,"rg":-0.05,"y":-0.09,"yg":0.09,"w":-0.29,"wg":0.54,"m":58,"mg":2},
{"t":1960,"a":-0.25,"ag":0.08,"c":-0.72,"cg":-0.66,"r":0.04,"rg":-0.08,"y":-0.29,"yg":0.05,"w":-0.65,"wg":0.3,"m":20,"mg":44},
{"t":1970,"a":-0.4,"ag":0.05,"c":-0.78,"cg":-0.7,"r":0,"rg":-0.03,"y":-0.44,"yg":0.02,"w":-0.92,"wg":0.12,"m":100,"mg":-44},
{"t":1980,"a":-0.85,"ag":-0.04,"c":-0.96,"cg":-0.81,"r":-0.14,"rg":-0.07,"y":-0.89,"yg":-0.07,"w":-1.73,"wg":-0.42,"m":20,"mg":44},
{"t":1990,"a":-0.25,"ag":0.08,"c":-0.72,"cg":-0.66,"r":0.11,"rg":-0.04,"y":-0.29,"yg":0.05,"w":-0.65,"wg":0.3,"m":100,"mg":-44},
{"t":2000,"a":-0.1,"ag":0.11,"c":-0.32,"cg":-1.5,"r":-0.15,"rg":-0.06,"y":-0.14,"yg":0.08,"w":-0.38,"wg":0.48,"m":35,"mg":28}
]},
"columns":2,
"spacing":{"row":24,"column":98},
"concat":[
{"width":435,"height":146,"title":"Household savings, aₜ","resolve":{"axis":{"x":"independent","y":"independent"}},
"layer":[
{"mark":{"type":"line","color":"#000000"},"encoding":{"x":{"field":"t","type":"quantitative","scale":{"domain":[0,2000],"nice":false},"axis":{"orient":"bottom","values":[0,200,400,600,800,1000,1200,1400,1600,1800,2000],"format":"d","title":null}},"y":{"field":"a","type":"quantitative","scale":{"domain":[-1,0.5],"nice":false,"zero":false},"axis":{"orient":"left","values":[-1,-0.5,0,0.5],"format":"~f","labelExpr":"replace(datum.label,'\u2212','-')","title":null}}}},
{"mark":{"type":"line","color":"#b3b3b3"},"encoding":{"x":{"field":"t","type":"quantitative","axis":null},"y":{"field":"ag","type":"quantitative","axis":null}}},
{"mark":{"type":"rule","color":"#000000","strokeWidth":0.8},"encoding":{"y":{"datum":0,"axis":null}}},
{"mark":{"type":"line","opacity":0},"encoding":{"x":{"field":"t","type":"quantitative","axis":{"orient":"top","values":[0,200,400,600,800,1000,1200,1400,1600,1800,2000],"labels":false,"title":null}},"y":{"field":"a","type":"quantitative","axis":{"orient":"right","values":[-1,-0.5,0,0.5],"labels":false,"title":null}}}}
]},
{"width":435,"height":146,"title":"Household consumption, cₜ","resolve":{"axis":{"x":"independent","y":"independent"}},
"layer":[
{"mark":{"type":"line","color":"#000000"},"encoding":{"x":{"field":"t","type":"quantitative","scale":{"domain":[0,2000],"nice":false},"axis":{"orient":"bottom","values":[0,200,400,600,800,1000,1200,1400,1600,1800,2000],"format":"d","title":null}},"y":{"field":"c","type":"quantitative","scale":{"domain":[-2,0],"nice":false,"zero":false},"axis":{"orient":"left","values":[-2,-1.5,-1,-0.5,0],"format":"~f","labelExpr":"replace(datum.label,'\u2212','-')","title":null}}}},
{"mark":{"type":"line","color":"#b3b3b3"},"encoding":{"x":{"field":"t","type":"quantitative","axis":null},"y":{"field":"cg","type":"quantitative","axis":null}}},
{"mark":{"type":"line","opacity":0},"encoding":{"x":{"field":"t","type":"quantitative","axis":{"orient":"top","values":[0,200,400,600,800,1000,1200,1400,1600,1800,2000],"labels":false,"title":null}},"y":{"field":"c","type":"quantitative","axis":{"orient":"right","values":[-2,-1.5,-1,-0.5,0],"labels":false,"title":null}}}}
]},
{"width":435,"height":146,"title":"Rental rate, Rₜ","resolve":{"axis":{"x":"independent","y":"independent"}},
"layer":[
{"mark":{"type":"line","color":"#000000"},"encoding":{"x":{"field":"t","type":"quantitative","scale":{"domain":[0,2000],"nice":false},"axis":{"orient":"bottom","values":[0,200,400,600,800,1000,1200,1400,1600,1800,2000],"format":"d","title":null}},"y":{"field":"r","type":"quantitative","scale":{"domain":[-0.2,0.2],"nice":false,"zero":false},"axis":{"orient":"left","values":[-0.2,-0.1,0,0.1,0.2],"format":"~f","labelExpr":"replace(datum.label,'\u2212','-')","title":null}}}},
{"mark":{"type":"line","color":"#b3b3b3"},"encoding":{"x":{"field":"t","type":"quantitative","axis":null},"y":{"field":"rg","type":"quantitative","axis":null}}},
{"mark":{"type":"rule","color":"#000000","strokeWidth":0.8},"encoding":{"y":{"datum":0,"axis":null}}},
{"mark":{"type":"line","opacity":0},"encoding":{"x":{"field":"t","type":"quantitative","axis":{"orient":"top","values":[0,200,400,600,800,1000,1200,1400,1600,1800,2000],"labels":false,"title":null}},"y":{"field":"r","type":"quantitative","axis":{"orient":"right","values":[-0.2,-0.1,0,0.1,0.2],"labels":false,"title":null}}}}
]},
{"width":435,"height":146,"title":"Output, Yₜ","resolve":{"axis":{"x":"independent","y":"independent"}},
"layer":[
{"mark":{"type":"line","color":"#000000"},"encoding":{"x":{"field":"t","type":"quantitative","scale":{"domain":[0,2000],"nice":false},"axis":{"orient":"bottom","values":[0,200,400,600,800,1000,1200,1400,1600,1800,2000],"format":"d","title":null}},"y":{"field":"y","type":"quantitative","scale":{"domain":[-1,0.5],"nice":false,"zero":false},"axis":{"orient":"left","values":[-1,-0.5,0,0.5],"format":"~f","labelExpr":"replace(datum.label,'\u2212','-')","title":null}}}},
{"mark":{"type":"line","color":"#b3b3b3"},"encoding":{"x":{"field":"t","type":"quantitative","axis":null},"y":{"field":"yg","type":"quantitative","axis":null}}},
{"mark":{"type":"rule","color":"#000000","strokeWidth":0.8},"encoding":{"y":{"datum":0,"axis":null}}},
{"mark":{"type":"line","opacity":0},"encoding":{"x":{"field":"t","type":"quantitative","axis":{"orient":"top","values":[0,200,400,600,800,1000,1200,1400,1600,1800,2000],"labels":false,"title":null}},"y":{"field":"y","type":"quantitative","axis":{"orient":"right","values":[-1,-0.5,0,0.5],"labels":false,"title":null}}}}
]},
{"width":435,"height":146,"title":"Managerial compensation, Wₜ","resolve":{"axis":{"x":"independent","y":"independent"}},
"layer":[
{"mark":{"type":"line","color":"#000000"},"encoding":{"x":{"field":"t","type":"quantitative","scale":{"domain":[0,2000],"nice":false},"axis":{"orient":"bottom","values":[0,200,400,600,800,1000,1200,1400,1600,1800,2000],"format":"d","title":"Time"}},"y":{"field":"w","type":"quantitative","scale":{"domain":[-2,1],"nice":false,"zero":false},"axis":{"orient":"left","values":[-2,-1,0,1],"format":"~f","labelExpr":"replace(datum.label,'\u2212','-')","title":null}}}},
{"mark":{"type":"line","color":"#b3b3b3"},"encoding":{"x":{"field":"t","type":"quantitative","axis":null},"y":{"field":"wg","type":"quantitative","axis":null}}},
{"mark":{"type":"rule","color":"#000000","strokeWidth":0.8},"encoding":{"y":{"datum":0,"axis":null}}},
{"mark":{"type":"line","opacity":0},"encoding":{"x":{"field":"t","type":"quantitative","axis":{"orient":"top","values":[0,200,400,600,800,1000,1200,1400,1600,1800,2000],"labels":false,"title":null}},"y":{"field":"w","type":"quantitative","axis":{"orient":"right","values":[-2,-1,0,1],"labels":false,"title":null}}}}
]},
{"width":435,"height":146,"title":"Malpractice, Mₜ","resolve":{"axis":{"x":"independent","y":"independent"}},
"layer":[
{"mark":{"type":"line","color":"#000000"},"encoding":{"x":{"field":"t","type":"quantitative","scale":{"domain":[0,2000],"nice":false},"axis":{"orient":"bottom","values":[0,200,400,600,800,1000,1200,1400,1600,1800,2000],"format":"d","title":"Time"}},"y":{"field":"m","type":"quantitative","scale":{"domain":[-50,100],"nice":false,"zero":false},"axis":{"orient":"left","values":[-50,0,50,100],"format":"d","labelExpr":"replace(datum.label,'\u2212','-')","title":null}}}},
{"mark":{"type":"line","color":"#b3b3b3"},"encoding":{"x":{"field":"t","type":"quantitative","axis":null},"y":{"field":"mg","type":"quantitative","axis":null}}},
{"mark":{"type":"rule","color":"#000000","strokeWidth":0.8},"encoding":{"y":{"datum":0,"axis":null}}},
{"mark":{"type":"line","opacity":0},"encoding":{"x":{"field":"t","type":"quantitative","axis":{"orient":"top","values":[0,200,400,600,800,1000,1200,1400,1600,1800,2000],"labels":false,"title":null}},"y":{"field":"m","type":"quantitative","axis":{"orient":"right","values":[-50,0,50,100],"labels":false,"title":null}}}}
]}
]
}
